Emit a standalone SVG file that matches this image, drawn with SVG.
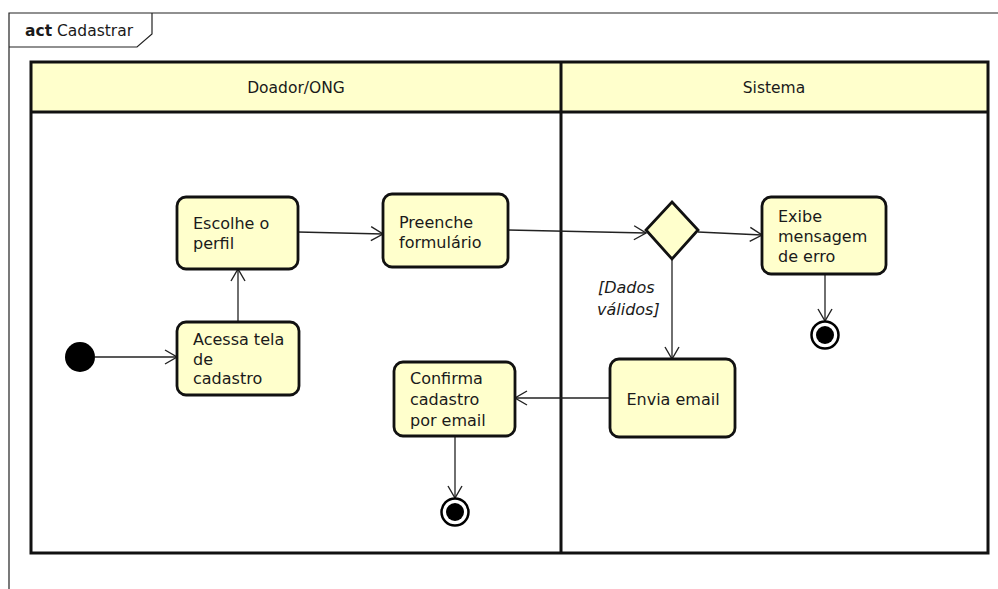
<svg xmlns="http://www.w3.org/2000/svg" width="998" height="589" viewBox="0 0 998 589">
<defs>
<style>
.t{font-family:"DejaVu Sans",sans-serif;font-size:16px;fill:#1a1a1a}
.h{font-family:"DejaVu Sans",sans-serif;font-size:15.5px;fill:#1a1a1a}
.g{font-family:"DejaVu Sans",sans-serif;font-size:16px;font-style:italic;fill:#1a1a1a}
.n{fill:#ffffcc;stroke:#111;stroke-width:2.8}
.c{fill:none;stroke:#222;stroke-width:1.3}
.lane{fill:none;stroke:#111;stroke-width:3}
</style>
<marker id="ar" viewBox="0 0 14 16" refX="13" refY="8" markerWidth="14" markerHeight="16" markerUnits="userSpaceOnUse" orient="auto">
<path d="M1,1 L13,8 L1,15" fill="none" stroke="#222" stroke-width="1.4"/>
</marker>
</defs>
<rect width="998" height="589" fill="#fff"/>
<g id="frame">
<path d="M9,589 L9,13 L998,13" fill="none" stroke="#222" stroke-width="1.2"/>
<path d="M152,13 L152,34 L137,47 L9,47" fill="none" stroke="#222" stroke-width="1.2"/>
<text x="25" y="36" class="h"><tspan font-weight="bold">act</tspan> Cadastrar</text>
</g>
<g id="lanes">
<rect x="31" y="62" width="957" height="50" fill="#ffffcc"/>
<rect x="31" y="62" width="957" height="491" class="lane"/>
<line x1="31" y1="112" x2="988" y2="112" stroke="#111" stroke-width="3"/>
<line x1="561" y1="62" x2="561" y2="553" stroke="#111" stroke-width="3"/>
<text x="296" y="93" class="h" text-anchor="middle">Doador/ONG</text>
<text x="774" y="93" class="h" text-anchor="middle">Sistema</text>
</g>
<g id="connectors">
<line x1="95" y1="357" x2="177" y2="357" class="c" marker-end="url(#ar)"/>
<line x1="238" y1="322" x2="238" y2="269" class="c" marker-end="url(#ar)"/>
<line x1="298" y1="232" x2="383" y2="234" class="c" marker-end="url(#ar)"/>
<line x1="508" y1="230" x2="646" y2="233" class="c" marker-end="url(#ar)"/>
<line x1="698" y1="232" x2="762" y2="235" class="c" marker-end="url(#ar)"/>
<line x1="672" y1="259" x2="672" y2="359" class="c" marker-end="url(#ar)"/>
<line x1="825" y1="274" x2="825" y2="321" class="c" marker-end="url(#ar)"/>
<line x1="610" y1="398" x2="515" y2="398" class="c" marker-end="url(#ar)"/>
<line x1="455" y1="436" x2="455" y2="498" class="c" marker-end="url(#ar)"/>
<text class="g"><tspan x="598" y="293">[Dados</tspan><tspan x="597" y="315">válidos]</tspan></text>
</g>
<g id="start"><circle cx="80" cy="357" r="15" fill="#000"/></g>
<g id="acessa">
<rect x="177" y="322" width="122" height="73" rx="9" class="n"/>
<text class="t"><tspan x="193" y="345">Acessa tela</tspan><tspan x="193" y="365">de</tspan><tspan x="193" y="384">cadastro</tspan></text>
</g>
<g id="escolhe">
<rect x="177" y="197" width="121" height="72" rx="9" class="n"/>
<text class="t"><tspan x="193" y="229">Escolhe o</tspan><tspan x="193" y="249">perfil</tspan></text>
</g>
<g id="preenche">
<rect x="383" y="194" width="125" height="73" rx="9" class="n"/>
<text class="t"><tspan x="399" y="228">Preenche</tspan><tspan x="399" y="248">formulário</tspan></text>
</g>
<g id="decisao">
<path d="M672,202 L698,230 L672,259 L646,230 Z" class="n"/>
</g>
<g id="exibe">
<rect x="762" y="197" width="124" height="77" rx="9" class="n"/>
<text class="t"><tspan x="778" y="222">Exibe</tspan><tspan x="778" y="242">mensagem</tspan><tspan x="778" y="262">de erro</tspan></text>
</g>
<g id="fim-erro">
<circle cx="825" cy="335" r="13.5" fill="#fff" stroke="#000" stroke-width="2.5"/>
<circle cx="825" cy="335" r="9" fill="#000"/>
</g>
<g id="envia">
<rect x="610" y="359" width="125" height="78" rx="9" class="n"/>
<text x="673" y="405" class="t" text-anchor="middle">Envia email</text>
</g>
<g id="confirma">
<rect x="394" y="362" width="121" height="74" rx="9" class="n"/>
<text class="t"><tspan x="410" y="384">Confirma</tspan><tspan x="410" y="405">cadastro</tspan><tspan x="410" y="426">por email</tspan></text>
</g>
<g id="fim">
<circle cx="455" cy="512" r="13.5" fill="#fff" stroke="#000" stroke-width="2.5"/>
<circle cx="455" cy="512" r="9" fill="#000"/>
</g>
</svg>
